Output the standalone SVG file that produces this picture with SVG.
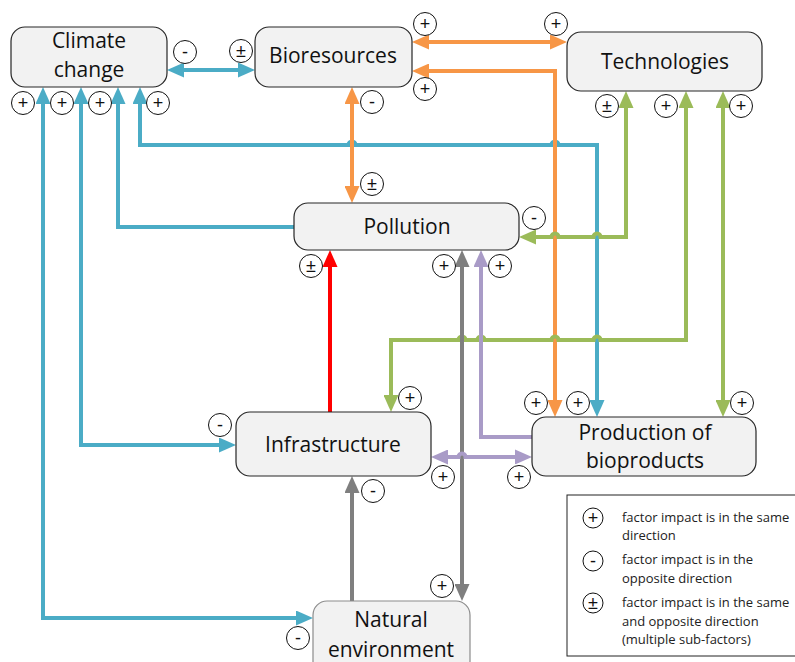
<svg xmlns="http://www.w3.org/2000/svg" width="795" height="662" viewBox="0 0 795 662">
  <style>
    .node rect { fill: #F2F2F2; stroke: #262626; stroke-width: 1.2; }
    .node text { font-family: "Open Sans", "Noto Sans", sans-serif; font-size: 21px; fill: #111; text-anchor: middle; }
    .c { fill: none; stroke-width: 4; stroke-linejoin: miter; }
    .blue { stroke: #4BACC6; }
    .orange { stroke: #F79646; }
    .green { stroke: #9BBB59; }
    .purple { stroke: #A99BC7; }
    .gray { stroke: #7F7F7F; }
    .red { stroke: #FF0000; }
    .legend text { font-family: "Open Sans", "Noto Sans", sans-serif; font-size: 13px; fill: #222; }
    .sign circle { fill: #fff; stroke: #111; stroke-width: 1; }
    .legend .sign text, .sign text { font-family: "Liberation Sans", "DejaVu Sans", sans-serif; font-size: 18px; fill: #111; text-anchor: middle; }
  </style>
  <defs>
    <marker id="ah-blue" viewBox="0 0 17 15" refX="12" refY="7.5" markerWidth="17" markerHeight="15" markerUnits="userSpaceOnUse" orient="auto-start-reverse"><path d="M0,0 L17,7.5 L0,15 Z" fill="#4BACC6"/></marker>
    <marker id="ah-orange" viewBox="0 0 17 15" refX="12" refY="7.5" markerWidth="17" markerHeight="15" markerUnits="userSpaceOnUse" orient="auto-start-reverse"><path d="M0,0 L17,7.5 L0,15 Z" fill="#F79646"/></marker>
    <marker id="ah-green" viewBox="0 0 17 15" refX="12" refY="7.5" markerWidth="17" markerHeight="15" markerUnits="userSpaceOnUse" orient="auto-start-reverse"><path d="M0,0 L17,7.5 L0,15 Z" fill="#9BBB59"/></marker>
    <marker id="ah-purple" viewBox="0 0 17 15" refX="12" refY="7.5" markerWidth="17" markerHeight="15" markerUnits="userSpaceOnUse" orient="auto-start-reverse"><path d="M0,0 L17,7.5 L0,15 Z" fill="#A99BC7"/></marker>
    <marker id="ah-gray" viewBox="0 0 17 15" refX="12" refY="7.5" markerWidth="17" markerHeight="15" markerUnits="userSpaceOnUse" orient="auto-start-reverse"><path d="M0,0 L17,7.5 L0,15 Z" fill="#7F7F7F"/></marker>
    <marker id="ah-red" viewBox="0 0 17 15" refX="12" refY="7.5" markerWidth="17" markerHeight="15" markerUnits="userSpaceOnUse" orient="auto-start-reverse"><path d="M0,0 L17,7.5 L0,15 Z" fill="#FF0000"/></marker>
  </defs>

  <rect width="795" height="662" fill="#fff"/>

  <!-- connectors -->
  <g id="connectors">
    <!-- blue: climate change links -->
    <path class="c blue" d="M172,70 L250,70" marker-start="url(#ah-blue)" marker-end="url(#ah-blue)"/>
    <path class="c blue" d="M43,92 L43,618 L308,618" marker-start="url(#ah-blue)" marker-end="url(#ah-blue)"/>
    <path class="c blue" d="M81,92 L81,445 L231,445" marker-start="url(#ah-blue)" marker-end="url(#ah-blue)"/>
    <path class="c blue" d="M118,92 L118,227 L294,227" marker-start="url(#ah-blue)"/>
    <path class="c blue" d="M140,92 L140,145 L348.5,145 A3.5,3.5 0 0 1 355.5,145 L551.5,145 A3.5,3.5 0 0 1 558.5,145 L597,145 L597,412" marker-start="url(#ah-blue)" marker-end="url(#ah-blue)"/>

    <!-- orange: bioresources links -->
    <path class="c orange" d="M417,42 L562,42" marker-start="url(#ah-orange)" marker-end="url(#ah-orange)"/>
    <path class="c orange" d="M417,71 L555,71 L555,412" marker-start="url(#ah-orange)" marker-end="url(#ah-orange)"/>
    <path class="c orange" d="M352,92 L352,198" marker-start="url(#ah-orange)" marker-end="url(#ah-orange)"/>

    <!-- green: technologies links -->
    <path class="c green" d="M626,96 L626,237 L600.5,237 A3.5,3.5 0 0 0 593.5,237 L558.5,237 A3.5,3.5 0 0 0 551.5,237 L524,237" marker-start="url(#ah-green)" marker-end="url(#ah-green)"/>
    <path class="c green" d="M686,96 L686,340 L600.5,340 A3.5,3.5 0 0 0 593.5,340 L558.5,340 A3.5,3.5 0 0 0 551.5,340 L484.5,340 A3.5,3.5 0 0 0 477.5,340 L465.5,340 A3.5,3.5 0 0 0 458.5,340 L391,340 L391,407" marker-start="url(#ah-green)" marker-end="url(#ah-green)"/>
    <path class="c green" d="M723,96 L723,412" marker-start="url(#ah-green)" marker-end="url(#ah-green)"/>

    <!-- red: infrastructure to pollution -->
    <path class="c red" d="M330,412 L330,255" marker-end="url(#ah-red)"/>

    <!-- gray: natural environment links -->
    <path class="c gray" d="M352,601 L352,481" marker-end="url(#ah-gray)"/>
    <path class="c gray" d="M462,255 L462,596" marker-start="url(#ah-gray)" marker-end="url(#ah-gray)"/>

    <!-- purple: production of bioproducts links -->
    <path class="c purple" d="M532,437 L481,437 L481,255" marker-end="url(#ah-purple)"/>
    <path class="c purple" d="M436,457 L458.5,457 A3.5,3.5 0 0 1 465.5,457 L527,457" marker-start="url(#ah-purple)" marker-end="url(#ah-purple)"/>
  </g>

  <!-- nodes -->
  <g id="climate-change" class="node">
    <rect x="11" y="27" width="156" height="60" rx="14"/>
    <text x="89" y="48">Climate</text>
    <text x="89" y="77">change</text>
  </g>
  <g id="bioresources" class="node">
    <rect x="255" y="27" width="157" height="60" rx="14"/>
    <text x="333" y="63">Bioresources</text>
  </g>
  <g id="technologies" class="node">
    <rect x="567" y="32" width="195" height="59" rx="14"/>
    <text x="665" y="69">Technologies</text>
  </g>
  <g id="pollution" class="node">
    <rect x="294" y="203" width="225" height="47" rx="14"/>
    <text x="407" y="234">Pollution</text>
  </g>
  <g id="infrastructure" class="node">
    <rect x="236" y="412" width="195" height="64" rx="14"/>
    <text x="333" y="452">Infrastructure</text>
  </g>
  <g id="production" class="node">
    <rect x="532" y="417" width="224" height="59" rx="14"/>
    <text x="645" y="440">Production of</text>
    <text x="645" y="468">bioproducts</text>
  </g>
  <g id="natural-environment" class="node">
    <rect x="313" y="601" width="157" height="74" rx="14" style="stroke:#8C8C8C"/>
    <text x="391" y="627">Natural</text>
    <text x="391" y="657">environment</text>
  </g>

  <!-- impact signs -->
  <g id="signs" class="sign">
    <g><circle cx="185" cy="52" r="11.5"/><text x="185" y="58">-</text></g>
    <g><circle cx="241" cy="51" r="11.5"/><text x="241" y="57">±</text></g>
    <g><circle cx="23" cy="103" r="11.5"/><text x="23" y="109">+</text></g>
    <g><circle cx="62" cy="103" r="11.5"/><text x="62" y="109">+</text></g>
    <g><circle cx="100" cy="103" r="11.5"/><text x="100" y="109">+</text></g>
    <g><circle cx="158" cy="103" r="11.5"/><text x="158" y="109">+</text></g>

    <g><circle cx="425" cy="24" r="11.5"/><text x="425" y="30">+</text></g>
    <g><circle cx="425" cy="89" r="11.5"/><text x="425" y="95">+</text></g>
    <g><circle cx="372" cy="102" r="11.5"/><text x="372" y="108">-</text></g>

    <g><circle cx="556" cy="24" r="11.5"/><text x="556" y="30">+</text></g>
    <g><circle cx="607" cy="106" r="11.5"/><text x="607" y="112">±</text></g>
    <g><circle cx="666" cy="106" r="11.5"/><text x="666" y="112">+</text></g>
    <g><circle cx="741" cy="106" r="11.5"/><text x="741" y="112">+</text></g>

    <g><circle cx="372" cy="184" r="11.5"/><text x="372" y="190">±</text></g>
    <g><circle cx="534" cy="218" r="11.5"/><text x="534" y="224">-</text></g>
    <g><circle cx="311" cy="266" r="11.5"/><text x="311" y="272">±</text></g>
    <g><circle cx="444" cy="266" r="11.5"/><text x="444" y="272">+</text></g>
    <g><circle cx="500" cy="266" r="11.5"/><text x="500" y="272">+</text></g>

    <g><circle cx="410" cy="398" r="11.5"/><text x="410" y="404">+</text></g>
    <g><circle cx="220" cy="425" r="11.5"/><text x="220" y="431">-</text></g>
    <g><circle cx="443" cy="477" r="11.5"/><text x="443" y="483">+</text></g>
    <g><circle cx="373" cy="491" r="11.5"/><text x="373" y="497">-</text></g>

    <g><circle cx="536" cy="403" r="11.5"/><text x="536" y="409">+</text></g>
    <g><circle cx="578" cy="403" r="11.5"/><text x="578" y="409">+</text></g>
    <g><circle cx="742" cy="403" r="11.5"/><text x="742" y="409">+</text></g>
    <g><circle cx="519" cy="477" r="11.5"/><text x="519" y="483">+</text></g>

    <g><circle cx="442" cy="586" r="11.5"/><text x="442" y="592">+</text></g>
    <g><circle cx="298" cy="638" r="11.5"/><text x="298" y="644">-</text></g>
  </g>

  <!-- legend -->
  <g id="legend" class="legend">
    <rect x="567" y="495" width="240" height="161" fill="#fff" stroke="#222" stroke-width="1"/>
    <g class="sign">
      <circle cx="593" cy="518" r="10"/><text x="593" y="524">+</text>
      <circle cx="593" cy="561" r="10"/><text x="593" y="567">-</text>
      <circle cx="593" cy="603" r="10"/><text x="593" y="609">±</text>
    </g>
    <text x="622" y="522">factor impact is in the same</text>
    <text x="622" y="540">direction</text>
    <text x="622" y="564">factor impact is in the</text>
    <text x="622" y="583">opposite direction</text>
    <text x="622" y="607">factor impact is in the same</text>
    <text x="622" y="626">and opposite direction</text>
    <text x="622" y="644">(multiple sub-factors)</text>
  </g>
</svg>
